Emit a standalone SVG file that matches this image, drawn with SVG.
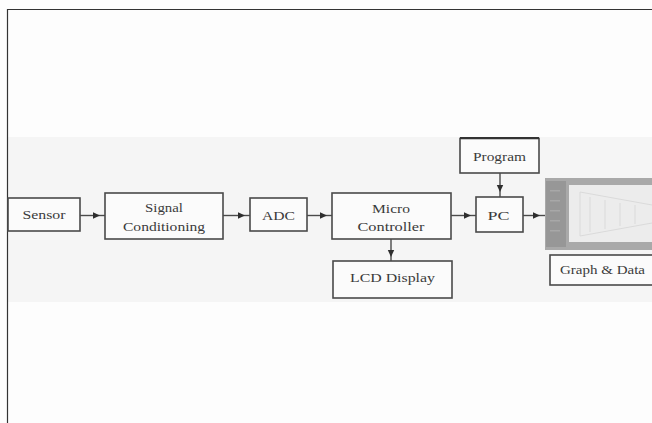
<svg xmlns="http://www.w3.org/2000/svg" width="652" height="423" viewBox="0 0 652 423">
<style>
.box{fill:#fbfbfb;stroke:#4a4a4a;stroke-width:1.6}
.lbl{font-family:"Liberation Serif","Times New Roman",serif;font-size:12.5px;fill:#3a3a3a;text-anchor:middle}
.con{fill:none;stroke:#4a4a4a;stroke-width:1.4}
</style>
<defs>
<marker id="ah" markerWidth="8" markerHeight="8" refX="7" refY="4" orient="auto" markerUnits="userSpaceOnUse">
<path d="M0,0.8 L7,4 L0,7.2 Z" fill="#2e2e2e"/>
</marker>
</defs>
<rect x="0" y="0" width="652" height="423" fill="#fdfdfd"/>
<rect x="8" y="137" width="644" height="165" fill="#f5f5f5"/>
<path d="M7.5,423 V9.5 H652" fill="none" stroke="#333" stroke-width="1.2"/>

<g id="connectors">
<polyline class="con" points="80,215.5 100,215.5 105,215.5" marker-mid="url(#ah)"/>
<polyline class="con" points="223,215.5 245,215.5 250,215.5" marker-mid="url(#ah)"/>
<polyline class="con" points="307,215.5 327,215.5 332,215.5" marker-mid="url(#ah)"/>
<polyline class="con" points="391,239 391,257 391,261" marker-mid="url(#ah)"/>
<polyline class="con" points="451,215.5 471,215.5 476,215.5" marker-mid="url(#ah)"/>
<polyline class="con" points="500,173 500,192 500,197" marker-mid="url(#ah)"/>
<polyline class="con" points="523,215.5 540,215.5 545,215.5" marker-mid="url(#ah)"/>
</g>

<g id="sensor">
<rect class="box" x="8" y="198" width="72" height="33"/>
<text class="lbl" x="44" y="219" textLength="43" lengthAdjust="spacingAndGlyphs">Sensor</text>
</g>
<g id="signal">
<rect class="box" x="105" y="193" width="118" height="46"/>
<text class="lbl" x="164" y="212" textLength="38" lengthAdjust="spacingAndGlyphs">Signal</text>
<text class="lbl" x="164" y="231" textLength="82" lengthAdjust="spacingAndGlyphs">Conditioning</text>
</g>
<g id="adc">
<rect class="box" x="250" y="198" width="57" height="33"/>
<text class="lbl" x="278.5" y="220" textLength="33" lengthAdjust="spacingAndGlyphs">ADC</text>
</g>
<g id="micro">
<rect class="box" x="332" y="193" width="119" height="46"/>
<text class="lbl" x="391" y="213" textLength="38" lengthAdjust="spacingAndGlyphs">Micro</text>
<text class="lbl" x="391" y="231" textLength="67" lengthAdjust="spacingAndGlyphs">Controller</text>
</g>
<g id="lcd">
<rect class="box" x="333" y="261" width="119" height="37"/>
<text class="lbl" x="392.5" y="282" textLength="85" lengthAdjust="spacingAndGlyphs">LCD Display</text>
</g>
<g id="program">
<rect class="box" x="460" y="138.5" width="79" height="34.5"/>
<line x1="460" y1="138" x2="539" y2="138" stroke="#333" stroke-width="2.2"/>
<text class="lbl" x="499.5" y="161" textLength="53" lengthAdjust="spacingAndGlyphs">Program</text>
</g>
<g id="pc">
<rect class="box" x="476" y="197" width="47" height="35"/>
<text class="lbl" x="498.5" y="220" textLength="22" lengthAdjust="spacingAndGlyphs">PC</text>
</g>
<g id="screen">
<rect x="545" y="178" width="107" height="72" fill="#a9a9a9"/>
<rect x="546" y="181" width="20" height="66" fill="#979797"/>
<rect x="569" y="185" width="83" height="57" fill="#ececec"/>
<g fill="none" stroke="#dadada" stroke-width="1">
<path d="M580,192 L652,205"/>
<path d="M580,236 L652,223"/>
<path d="M580,192 V236"/>
<path d="M590,197 V232 M605,200 V229 M620,203 V226 M635,205 V224"/>
</g>
<g fill="#a8a8a8">
<rect x="550" y="190" width="10" height="1.5"/>
<rect x="550" y="200" width="10" height="1.5"/>
<rect x="550" y="210" width="10" height="1.5"/>
<rect x="550" y="220" width="10" height="1.5"/>
<rect x="550" y="230" width="10" height="1.5"/>
</g>
</g>
<g id="graph">
<rect class="box" x="550" y="255" width="104" height="30"/>
<text class="lbl" x="602.5" y="274" textLength="85" lengthAdjust="spacingAndGlyphs">Graph &amp; Data</text>
</g>
</svg>
